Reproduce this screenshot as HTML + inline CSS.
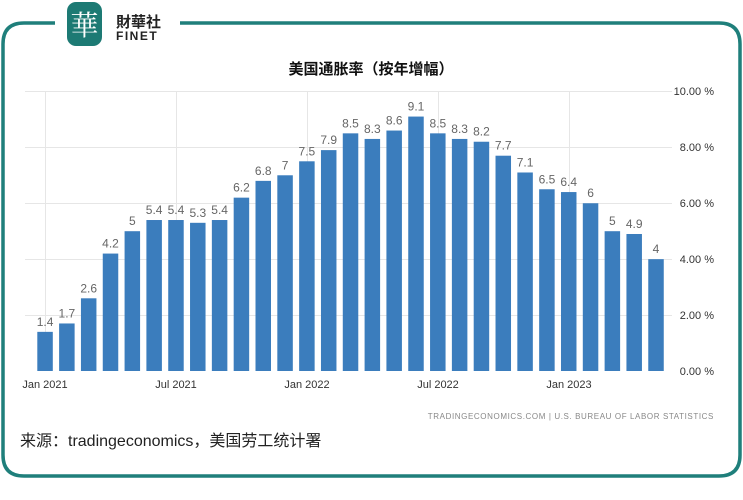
<!DOCTYPE html>
<html><head><meta charset="utf-8"><style>
body{margin:0;background:#fff;width:743px;height:500px;overflow:hidden;position:relative;font-family:"Liberation Sans","Noto Sans CJK SC",sans-serif}
</style></head><body>
<svg width="743" height="500" style="position:absolute;left:0;top:0">
<path d="M55 23 H24 Q3 23 3 44 V455 Q3 476 24 476 H719 Q740 476 740 455 V44 Q740 23 719 23 H180" fill="none" stroke="#1f7f7b" stroke-width="3.5"/>
<rect x="67" y="2" width="35" height="44" rx="9" fill="#1d7a74"/>
<text x="84.5" y="35" font-size="28" fill="#fff" text-anchor="middle" font-family="Noto Serif CJK SC,serif">華</text>
<text x="116" y="27" font-size="15" fill="#222" font-weight="bold" font-family="Noto Sans CJK TC,sans-serif">財華社</text>
<text x="116" y="40" font-size="12" fill="#222" font-weight="bold" letter-spacing="1.5">FINET</text>
<text x="371" y="74" font-size="15" font-weight="bold" text-anchor="middle" fill="#111" font-family="Liberation Sans,Noto Sans CJK SC,sans-serif">美国通胀率（按年增幅）</text>
<g stroke="#e6e6e6" stroke-width="1">
<line x1="25" y1="91.5" x2="672" y2="91.5"/><line x1="25" y1="147.5" x2="672" y2="147.5"/><line x1="25" y1="203.5" x2="672" y2="203.5"/><line x1="25" y1="259.5" x2="672" y2="259.5"/><line x1="25" y1="315.5" x2="672" y2="315.5"/>
<line x1="45.5" y1="91" x2="45.5" y2="371"/><line x1="176.5" y1="91" x2="176.5" y2="371"/><line x1="307.5" y1="91" x2="307.5" y2="371"/><line x1="438.5" y1="91" x2="438.5" y2="371"/><line x1="569.5" y1="91" x2="569.5" y2="371"/>
</g>
<g id="bars" fill="#3b7dbd"></g>
<g id="lbl" font-size="12" fill="#666" text-anchor="middle"></g>
<g font-size="11" fill="#333" text-anchor="end">
<text x="714" y="95">10.00 %</text><text x="714" y="151">8.00 %</text><text x="714" y="207">6.00 %</text><text x="714" y="263">4.00 %</text><text x="714" y="319">2.00 %</text><text x="714" y="375">0.00 %</text>
</g>
<g font-size="11" fill="#333" text-anchor="middle">
<text x="45" y="388">Jan 2021</text><text x="176" y="388">Jul 2021</text><text x="307" y="388">Jan 2022</text><text x="438" y="388">Jul 2022</text><text x="569" y="388">Jan 2023</text>
</g>
<text x="714" y="419" font-size="8" fill="#888" text-anchor="end" letter-spacing="0.6">TRADINGECONOMICS.COM  |  U.S. BUREAU OF LABOR STATISTICS</text>
<text x="20" y="446" font-size="16" fill="#222" font-family="Liberation Sans,Noto Sans CJK SC,sans-serif">来源：tradingeconomics，美国劳工统计署</text>
</svg>
<script>
var v=[1.4,1.7,2.6,4.2,5,5.4,5.4,5.3,5.4,6.2,6.8,7,7.5,7.9,8.5,8.3,8.6,9.1,8.5,8.3,8.2,7.7,7.1,6.5,6.4,6,5,4.9,4];
var b=document.getElementById('bars'),l=document.getElementById('lbl'),ns='http://www.w3.org/2000/svg';
v.forEach(function(d,i){var x=37.3+i*21.82,h=d*27.96,y=371-h;
var r=document.createElementNS(ns,'rect');r.setAttribute('x',x);r.setAttribute('y',y);r.setAttribute('width',15.5);r.setAttribute('height',h);b.appendChild(r);
var t=document.createElementNS(ns,'text');t.setAttribute('x',x+7.75);t.setAttribute('y',y-6);t.textContent=String(d);l.appendChild(t);});
</script>
</body></html>
